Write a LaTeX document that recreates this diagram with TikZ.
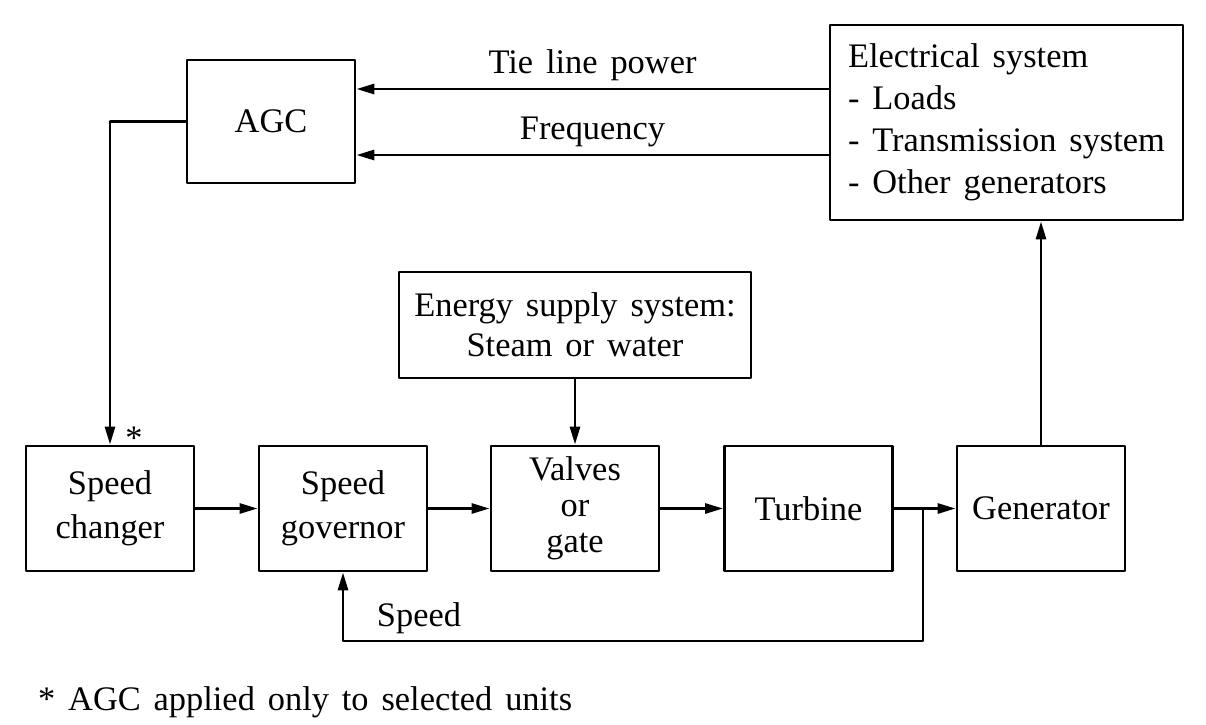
\documentclass[tikz,border=0pt]{standalone}
\usepackage{fontspec}
\setmainfont{Liberation Serif}[WordSpace=1.5]
\usetikzlibrary{arrows.meta}

\begin{document}
\begin{tikzpicture}[x=0.5pt, y=-0.5pt, font=\fontsize{17.2}{21}\selectfont, line join=round, line cap=round, line width=1.4pt, >={Triangle[length=9pt,width=5pt]},
		block/.style={draw, minimum width=84pt, minimum height=62.5pt, align=center, inner sep=2pt}]
				\def \row{508.5}
				\useasboundingbox (0,0) rectangle (1206,724);
				\coordinate (tie) at (0,89);
				\coordinate (freq) at (0,155);
				\coordinate (tap) at (923,\row);     % nhánh tín hiệu tốc độ
				\coordinate (fb) at (923,641);
				\node[block, minimum height=61.5pt] (agc) at (271,121.5) {AGC};
				\node[block, align=left, minimum width=176.5pt, minimum height=97.5pt] (elec) at (1006.5,122.5) {Electrical system\\ - Loads\\ - Transmission system\\ - Other generators};
				\node[block, minimum width=176pt, minimum height=53pt, font=\fontsize{17.2}{20}\selectfont] (energy) at (575,325) {Energy supply system:\\ Steam or water};
				\node[block, font=\fontsize{17.2}{22}\selectfont] (chg) at (110,\row) {Speed\\ changer};
				\node[block, font=\fontsize{17.2}{22}\selectfont] (gov) at (343,\row) {Speed\\ governor};
				\node[block, font=\fontsize{17.2}{18}\selectfont] (valve) at (575,\row) {Valves\\ or\\ gate};
				\node[block] (turb) at (808.5,\row) {Turbine};
				\node[block] (gen) at (1041,\row) {Generator};
				\draw[->] (tie -| elec.west) -- node[above] {Tie line power} (tie -| agc.east);
				\draw[->] (freq -| elec.west) -- node[above] {Frequency} (freq -| agc.east);
				\draw[->] (agc.west) -| (chg.north);
				\node[anchor=base] (star) at (134,449) {*};
				\draw[->] (chg.east) -- (gov.west);
				\draw[->] (gov.east) -- (valve.west);
				\draw[->] (valve.east) -- (turb.west);
				\draw[->] (turb.east) -- (gen.west);
				\draw[->] (energy.south) -- (valve.north);
				\draw[->] (gen.north) -- (gen.north |- elec.south);
				\draw[->] (tap) -- (fb) -| (gov.south);
				\node (spd) at (419,618) {Speed};
				\node[anchor=west] (note) at (30,702) {* AGC applied only to selected units};
		\end{tikzpicture}
\end{document}
